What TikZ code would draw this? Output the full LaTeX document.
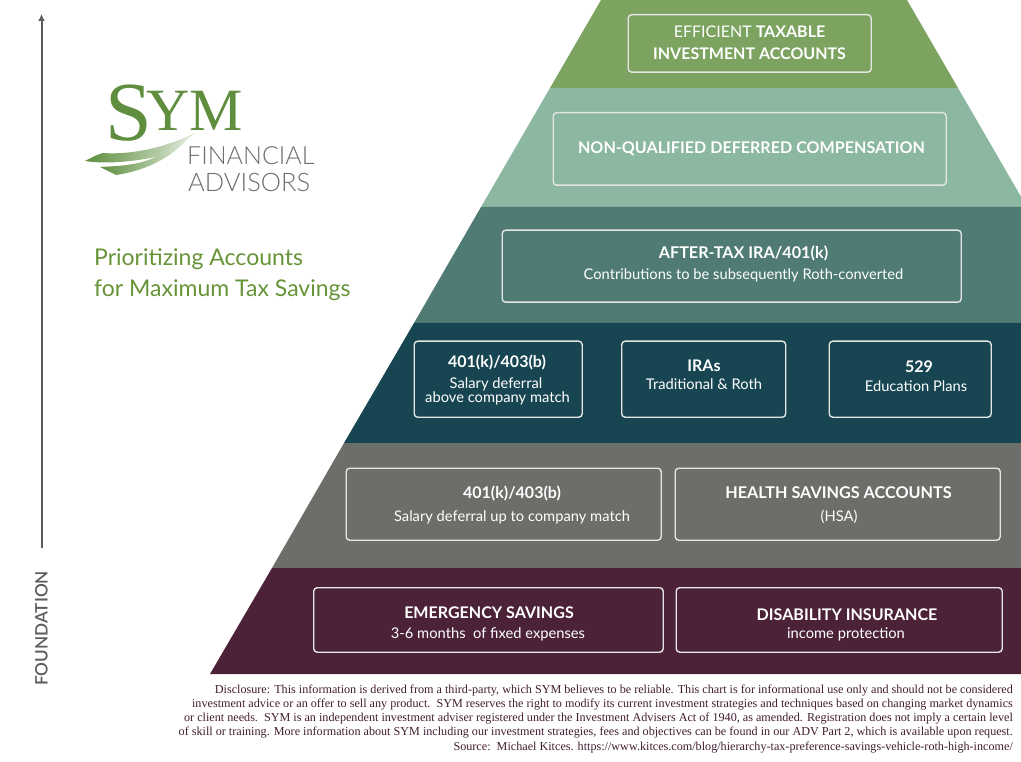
\documentclass[tikz,border=0pt]{standalone}
\usepackage{fontspec}
\usetikzlibrary{arrows.meta}
\setmainfont{Lato}
\newfontfamily\logoserif{Liberation Serif}
\newfontfamily\logosans{Lato Light}
\newfontfamily\discfont{Liberation Serif}
\newfontfamily\axisfont{Lato Semibold}
\definecolor{bandA}{HTML}{7CA35F}
\definecolor{bandB}{HTML}{8CB7A0}
\definecolor{bandC}{HTML}{4F7B74}
\definecolor{bandD}{HTML}{174552}
\definecolor{bandE}{HTML}{6C6E69}
\definecolor{bandF}{HTML}{4C2238}
\definecolor{logogreen}{HTML}{5E8E3E}
\definecolor{titlegreen}{HTML}{679437}
\definecolor{axisgrey}{HTML}{5A5D5F}
\definecolor{logogrey}{HTML}{6B6D70}
\newcommand{\fs}[1]{\fontsize{#1}{#1}\selectfont}
\tikzset{
  x=1pt,y=-1pt,
  tbox/.style={draw=white!90!black,line width=1.4pt,rounded corners=3.5pt,anchor=north west,inner sep=0pt},
  label/.style={text=white,inner sep=0pt,align=center},
  hd/.style={label,font=\fs{16.2}\bfseries},
  sub/.style={label,font=\fs{14.7}},
  disc/.style={anchor=east,inner sep=0pt,text=bandF!85!black,font=\discfont\fs{12.15}},
}
\newcommand{\tb}[5]{\node[tbox,minimum width=#4pt-#2pt,minimum height=#5pt-#3pt] (#1) at (#2,#3) {};}
\begin{document}
\begin{tikzpicture}
\useasboundingbox (0,0) rectangle (1021,762);
\begin{scope}
\clip (0,0) rectangle (1021,762);
\fill[bandA] (601,0)--(907,0)--(958,88)--(550,88)--cycle;
\fill[bandB] (550,88)--(958,88)--(1027,207)--(481,207)--cycle;
\fill[bandC] (481,207)--(1021,207)--(1021,323)--(414,323)--cycle;
\fill[bandD] (414,323)--(1021,323)--(1021,443)--(344,443)--cycle;
\fill[bandE] (344,443)--(1021,443)--(1021,568)--(272,568)--cycle;
\fill[bandF] (272,568)--(1021,568)--(1021,674)--(210,674)--cycle;
\end{scope}
\tb{b1}{627.5}{14}{870.5}{71.5}
\tb{b2}{552.5}{112}{945.5}{184.5}
\tb{b3}{501.5}{229.5}{960.5}{301.5}
\tb{b4}{413.5}{340.5}{581.5}{416.5}
\tb{b5}{621}{340.5}{785}{416.5}
\tb{b6}{828.5}{340.5}{990.5}{416.5}
\tb{b7}{345.5}{467.5}{660.5}{539.5}
\tb{b8}{674.5}{467.5}{999.5}{539.5}
\tb{b9}{313}{587}{662.5}{651.5}
\tb{b10}{675.5}{587}{1001.5}{651.5}
\node[label,font=\fs{16}] (t1) at (749.5,31.5) {EFFICIENT \textbf{TAXABLE}};
\node[hd,font=\fs{16}\bfseries] (t1b) at (749.5,53.5) {INVESTMENT ACCOUNTS};
\node[hd,font=\fs{16.1}\bfseries] (t2) at (751.5,149) {NON-QUALIFIED DEFERRED COMPENSATION};
\node[hd] (t3) at (743.5,253) {AFTER-TAX IRA/401(k)};
\node[sub] (t3b) at (743.5,275.5) {Contributions to be subsequently Roth-converted};
\node[hd,font=\fs{16}\bfseries] (t4) at (497,362.5) {401(k)/403(b)};
\node[sub] (t4b) at (496,384.5) {Salary deferral};
\node[sub] (t4c) at (497.5,398.5) {above company match};
\node[hd,font=\fs{16}\bfseries] (t5) at (704,365.5) {IRAs};
\node[sub] (t5b) at (704,384.5) {Traditional \& Roth};
\node[hd,font=\fs{16}\bfseries] (t6) at (919,366.5) {529};
\node[sub] (t6b) at (916,386.5) {Education Plans};
\node[hd,font=\fs{16}\bfseries] (t7) at (512,493) {401(k)/403(b)};
\node[sub] (t7b) at (512,517.5) {Salary deferral up to company match};
\node[hd] (t8) at (838.5,493) {HEALTH SAVINGS ACCOUNTS};
\node[sub] (t8b) at (839,516.5) {(HSA)};
\node[hd,font=\fs{16.05}\bfseries] (t9) at (489,612.5) {EMERGENCY SAVINGS};
\node[sub] (t9b) at (488,634.5) {3-6 months\ \ of fixed expenses};
\node[hd,font=\fs{16.05}\bfseries] (t10) at (847,614.5) {DISABILITY INSURANCE};
\node[sub] (t10b) at (846,634.5) {income protection};
% axis
\coordinate (axbot) at (41.5,548);
\coordinate (axtop) at (41.5,14);
\draw[axisgrey,line width=2pt,-{Latex[length=7pt,width=7pt]}] (axbot)--(axtop);
\node[rotate=90,text=axisgrey,font=\axisfont\fs{17.2},inner sep=0pt] (foundation) at (41.5,628.5) {FOUNDATION};
% logo
\shade[left color=logogreen,middle color=logogreen!80!white,right color=logogreen!20!white]
 (85,161) .. controls (95,156) and (98,154) .. (103,153) .. controls (130,155) and (165,148) .. (195,133)
 .. controls (180,145) and (165,156) .. (145,159) .. controls (125,162) and (105,164) .. (85,161) -- cycle;
\shade[left color=logogreen,middle color=logogreen!75!white,right color=logogreen!15!white]
 (100,167) .. controls (120,166) and (150,165) .. (165,150) -- (192,134)
 .. controls (175,155) and (150,170) .. (116,175) -- cycle;
\node[anchor=base west,inner sep=0pt,text=logogreen,font=\logoserif\fs{84}] (logoS) at (105,141) {S};
\node[anchor=base west,inner sep=0pt,text=logogreen,font=\logoserif\fs{60}] (logoYM) at (146,131) {YM};
\node[anchor=base west,inner sep=0pt,text=logogrey,font=\logosans\fs{25}] (logoF) at (187,165) {FINANCIAL};
\node[anchor=base west,inner sep=0pt,text=logogrey,font=\logosans\fs{25.5}] (logoA) at (188,191.5) {ADVISORS};
\node[anchor=west,inner sep=0pt,text=titlegreen,font=\fs{23}] (title1) at (94,259) {Prioritizing Accounts};
\node[anchor=west,inner sep=0pt,text=titlegreen,font=\fs{23}] (title2) at (94,290) {for Maximum Tax Savings};
% disclosure
\node[disc] (d1) at (1013,690.5) {Disclosure: This information is derived from a third-party, which SYM believes to be reliable. This chart is for informational use only and should not be considered};
\node[disc] (d2) at (1013,704.5) {investment advice or an offer to sell any product.\ \ SYM reserves the right to modify its current investment strategies and techniques based on changing market dynamics};
\node[disc] (d3) at (1013,718.5) {or client needs.\ \ SYM is an independent investment adviser registered under the Investment Advisers Act of 1940, as amended. Registration does not imply a certain level};
\node[disc] (d4) at (1013,732.5) {of skill or training. More information about SYM including our investment strategies, fees and objectives can be found in our ADV Part 2, which is available upon request.};
\node[disc] (d5) at (1013,747.5) {Source:\ \ Michael Kitces. https://www.kitces.com/blog/hierarchy-tax-preference-savings-vehicle-roth-high-income/};
\end{tikzpicture}
\end{document}
